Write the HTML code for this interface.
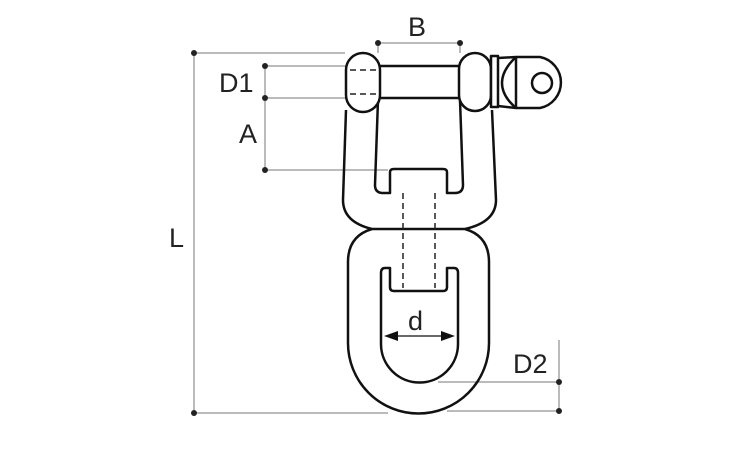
<!DOCTYPE html>
<html><head><style>html,body{margin:0;padding:0;background:#fff;}svg{display:block}</style></head>
<body>
<svg width="750" height="450" viewBox="0 0 750 450" xmlns="http://www.w3.org/2000/svg">
<g stroke="#777" stroke-width="1" fill="none">
<line x1="194" y1="53" x2="345" y2="53"/>
<line x1="194" y1="53" x2="194" y2="413"/>
<line x1="194" y1="413" x2="388" y2="413"/>
<line x1="265" y1="66" x2="265" y2="170"/>
<line x1="265" y1="66" x2="347" y2="66"/>
<line x1="265" y1="98" x2="347" y2="98"/>
<line x1="265" y1="170" x2="388" y2="170"/>
<line x1="378" y1="43" x2="460" y2="43"/>
<line x1="378" y1="43" x2="378" y2="53"/>
<line x1="460" y1="43" x2="460" y2="53"/>
<line x1="559" y1="340" x2="559" y2="411"/>
<line x1="438" y1="382" x2="559" y2="382"/>
<line x1="447" y1="411" x2="559" y2="411"/>
</g>
<g fill="#222">
<circle cx="194" cy="53" r="3"/><circle cx="194" cy="413" r="3"/>
<circle cx="265" cy="66" r="3"/><circle cx="265" cy="98" r="3"/><circle cx="265" cy="170" r="3"/>
<circle cx="378" cy="43" r="3"/><circle cx="460" cy="43" r="3"/>
<circle cx="559" cy="382" r="3"/><circle cx="559" cy="411" r="3"/>
</g>
<g fill="#222" font-family="Liberation Sans, sans-serif" font-size="27">
<text x="408" y="36">B</text>
<text x="219" y="92">D1</text>
<text x="239" y="143">A</text>
<text x="169" y="247">L</text>
<text x="408" y="330">d</text>
<text x="513" y="373">D2</text>
</g>
<g stroke="#111" stroke-width="2.5" fill="none" stroke-linejoin="round">
<path d="M346 110 L343 200 Q343 222 372 229 L465 229 Q496 222 496 200 L492 110"/>
<path d="M378 100 L375 185 Q375 193 383 193 L390 193 L390 172 Q390 169 394 169 L443 169 Q447 169 447 172 L447 193 L455 193 Q463 193 463 185 L460 100"/>
<line x1="378" y1="66" x2="460" y2="66"/>
<line x1="378" y1="98" x2="460" y2="98"/>
<rect x="346" y="53" width="34" height="59" rx="17" fill="#fff"/>
<rect x="459" y="53" width="32" height="58" rx="16" fill="#fff"/>
<rect x="491" y="56" width="7" height="51" fill="#fff"/>
<path d="M498 58 L516 57 L540 57 A26 26 0 0 1 540 108 L516 108 L498 106"/>
<path d="M516 57 Q502 70 502 83 Q502 96 516 108"/>
<line x1="516" y1="57" x2="516" y2="108"/>
<circle cx="542" cy="83" r="10"/>
<path d="M372 229 Q348 236 348 262 L348 343 A70.5 70.5 0 0 0 489 343 L489 262 Q489 236 465 229"/>
<path d="M385 268 Q381 268 381 273 L381 344 A38.5 38.5 0 0 0 458 344 L458 273 Q458 268 454 268 L447 268 L447 287 Q447 291 443 291 L394 291 Q390 291 390 287 L390 268 Z"/>
</g>
<g stroke="#222" stroke-width="1.5" stroke-dasharray="6,4" fill="none">
<line x1="403" y1="193" x2="403" y2="288"/>
<line x1="435" y1="193" x2="435" y2="288"/>
<line x1="350" y1="70" x2="378" y2="70"/>
<line x1="350" y1="94" x2="378" y2="94"/>
</g>
<g stroke="#111" stroke-width="1.2">
<line x1="388" y1="336" x2="452" y2="336"/>
</g>
<path d="M384 336 L398 331 L398 341 Z M455 336 L441 331 L441 341 Z" fill="#111"/>
</svg>
</body></html>
